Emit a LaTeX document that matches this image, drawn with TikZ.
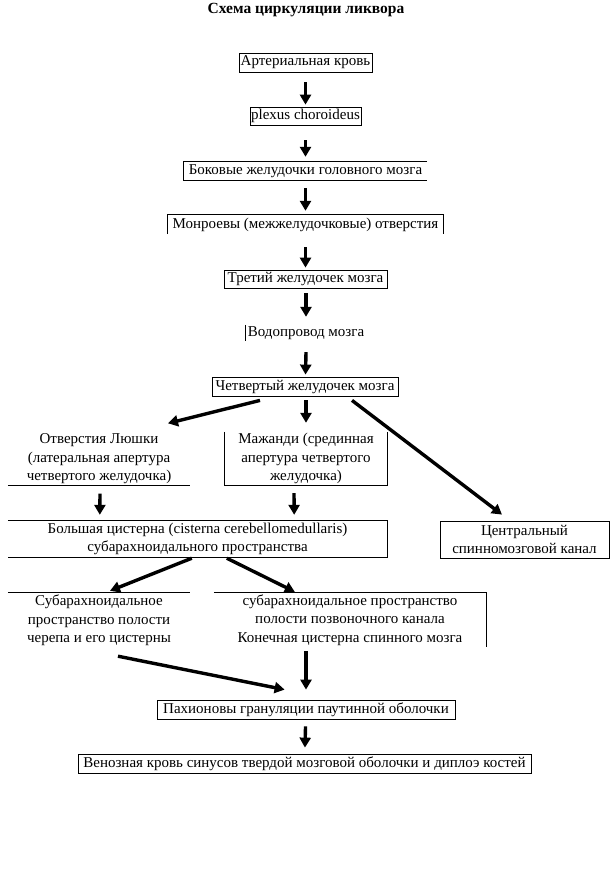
\documentclass[tikz,border=0pt]{standalone}
\usepackage{fontspec}
\setmainfont{Liberation Serif}
\usetikzlibrary{arrows.meta}
\begin{document}
\begin{tikzpicture}[x=1pt,y=-1pt,
  txt/.style={inner sep=0pt,align=center,font=\fontsize{15}{18.5}\selectfont},
  boxed/.style={txt,draw,line width=0.8pt},
  edge/.style={line width=0.8pt},
  arr/.style={line width=3.4pt,-{Triangle[length=10pt,width=11pt]}}]
\useasboundingbox (0,0) rectangle (613,879);
\node[txt,font=\fontsize{15.5}{18}\selectfont\bfseries] (title) at (306,10) {Схема циркуляции ликвора};
\node[boxed,minimum width=133pt,minimum height=19pt] (b1) at (305.5,62.5) {Артериальная кровь};
\node[boxed,minimum width=111pt,minimum height=18pt] (b2) at (305.5,116) {plexus choroideus};
\node[txt,minimum width=243pt,minimum height=18pt] (b3) at (305.5,171) {Боковые желудочки головного мозга};
\node[txt,minimum width=275pt,minimum height=19pt] (b4) at (305.5,224.5) {Монроевы (межжелудочковые) отверстия};
\node[boxed,minimum width=163pt,minimum height=18pt] (b5) at (305.5,279) {Третий желудочек мозга};
\node[txt,minimum height=18pt] (b6) at (306,333) {Водопровод мозга};
\node[boxed,minimum width=186pt,minimum height=19pt] (b7) at (305,386.5) {Четвертый желудочек мозга};
\node[txt,minimum width=182pt,minimum height=53pt] (lu) at (99,459) {Отверстия Люшки\\(латеральная апертура\\четвертого желудочка)};
\node[txt,minimum width=162pt,minimum height=53pt] (ma) at (306,458.5) {Мажанди (срединная\\апертура четвертого\\желудочка)};
\node[txt,minimum width=379pt,minimum height=36pt] (ci) at (197.5,539) {Большая цистерна (cisterna cerebellomedullaris)\\субарахноидального пространства};
\node[boxed,minimum width=169pt,minimum height=37pt] (ce) at (524.5,539.5) {Центральный\\спинномозговой канал};
\node[txt,minimum width=182pt,minimum height=55pt] (cr) at (99,620.5) {Субарахноидальное\\пространство полости\\черепа и его цистерны};
\node[txt,minimum width=272pt,minimum height=54pt] (sp) at (350,620) {субарахноидальное пространство\\полости позвоночного канала\\Конечная цистерна спинного мозга};
\node[boxed,minimum width=298pt,minimum height=19pt] (pa) at (306,709.5) {Пахионовы грануляции паутинной оболочки};
\node[boxed,minimum width=453pt,minimum height=19pt] (ve) at (304.5,763.5) {Венозная кровь синусов твердой мозговой оболочки и диплоэ костей};
% partial borders
\draw[edge] (b3.north east) -- (b3.north west) -- (b3.south west) -- (b3.south east);
\draw[edge] (b4.south west) -- (b4.north west) -- (b4.north east) -- (b4.south east);
\draw[edge] (lu.south west) -- (lu.south east);
\draw[edge] (ma.north west) -- (ma.south west) -- (ma.south east) -- (ma.north east);
\draw[edge] (ci.north west) -- (ci.north east) -- (ci.south east) -- (ci.south west);
\draw[edge] (cr.north west) -- (cr.north east);
\draw[edge] (sp.north west) -- (sp.north east) -- (sp.south east);
\draw[line width=0.8pt] ([xshift=-2pt,yshift=-1pt]b6.north west) -- ([xshift=-2pt,yshift=1pt]b6.south west);
% arrows
\draw[arr,shorten <=10pt,shorten >=2pt] (b1) -- (b2);
\draw[arr,shorten <=15pt,shorten >=5pt] (b2) -- (b3);
\draw[arr,shorten <=8pt,shorten >=4pt] (b3) -- (b4);
\draw[arr,shorten <=13pt,shorten >=2pt] (b4) -- (b5);
\draw[arr] ([xshift=0.5pt,yshift=-5pt]b5.south) -- ([xshift=0pt,yshift=7pt]b6.north);
\draw[arr] ([yshift=-10pt]b6.south) -- ([xshift=0.5pt,yshift=2pt]b7.north);
\draw[arr] ([xshift=-45pt,yshift=-4pt]b7.south) -- ([xshift=69pt,yshift=9pt]lu.north);
\draw[arr] ([xshift=1pt,yshift=-4pt]b7.south) -- ([yshift=9pt]ma.north);
\draw[arr] ([xshift=47pt,yshift=-4pt]b7.south) -- ([xshift=-22.5pt,yshift=6pt]ce.north);
\draw[arr] ([xshift=1pt,yshift=-8pt]lu.south) -- ([xshift=92pt,yshift=6pt]ci.north west);
\draw[arr] ([xshift=-12pt,yshift=-8pt]ma.south) -- ([xshift=-93pt,yshift=6pt]ci.north east);
\draw[arr] ([xshift=184pt,yshift=-1pt]ci.south west) -- ([xshift=11pt,yshift=2pt]cr.north);
\draw[arr] ([xshift=219pt,yshift=-1pt]ci.south west) -- ([xshift=81pt,yshift=1pt]sp.north west);
\draw[arr] ([xshift=19pt,yshift=-8pt]cr.south) -- ([xshift=128pt,yshift=10pt]pa.north west);
\draw[arr] ([xshift=-44pt,yshift=-4pt]sp.south) -- ([yshift=10pt]pa.north);
\draw[arr,shorten <=7pt,shorten >=6pt] (pa) -- (ve);
\end{tikzpicture}
\end{document}
